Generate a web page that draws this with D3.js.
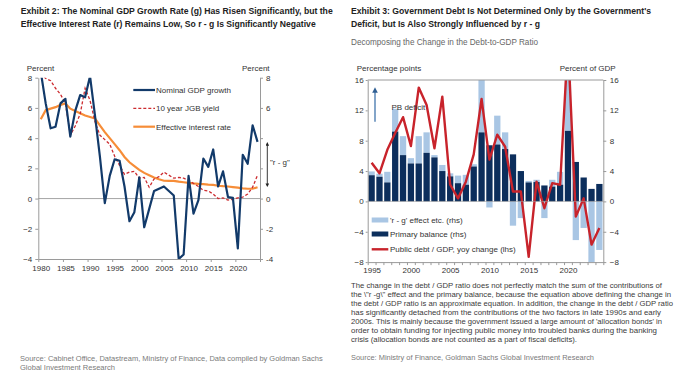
<!DOCTYPE html>
<html><head><meta charset="utf-8">
<script src="https://cdn.jsdelivr.net/npm/d3@7"></script>
<style>
body{margin:0;background:#fff;}
svg{display:block;font-family:"Liberation Sans",Arial,sans-serif;}
</style></head><body>
<svg id="c" width="700" height="378"></svg>
<script>
// ---------- Exhibit 2 data ----------
const years1 = [1980,1981,1982,1983,1984,1985,1986,1987,1988,1989,1990,1991,1992,1993,1994,1995,1996,1997,1998,1999,2000,2001,2002,2003,2004,2005,2006,2007,2008,2009,2010,2011,2012,2013,2014,2015,2016,2017,2018,2019,2020,2021,2022,2023,2024];
const gdpGrowth = [8.4,6.3,4.65,4.75,6.3,6.6,4.1,5.8,6.85,6.7,8.1,5.5,2.8,-0.3,1.5,2.6,2.5,0.8,-1.5,-0.9,1.4,-1.9,-0.7,0.5,0.65,0.8,0.5,0.2,-4.0,-3.7,1.5,-1.0,-0.1,2.65,2.1,3.25,0.8,1.8,0.1,0.05,-3.3,2.9,2.3,4.85,3.75];
const jgbYield = [8.3,7.95,7.8,7.3,6.9,6.3,4.2,4.8,5.6,7.3,6.5,5.1,4.2,3.9,3.6,2.8,2.2,1.6,1.75,1.8,1.35,1.4,0.75,1.3,1.45,1.75,1.55,1.35,1.4,1.35,1.2,1.0,0.8,0.55,0.5,0.3,0.0,0.05,-0.1,-0.05,0.05,0.1,0.3,0.75,1.55];
const effRate = [5.25,5.85,5.95,6.05,6.2,6.3,5.95,5.8,5.65,5.5,5.4,5.3,4.85,4.4,4.0,3.6,3.2,2.75,2.4,2.15,1.9,1.7,1.55,1.4,1.28,1.18,1.17,1.17,1.12,1.08,1.04,1.0,0.97,0.95,0.92,0.9,0.85,0.82,0.8,0.76,0.72,0.68,0.65,0.65,0.75];
const ticks1 = [-4,-2,0,2,4,6,8];
const xLabels1 = [1980,1985,1990,1995,2000,2005,2010,2015,2020];

// ---------- Exhibit 3 data ----------
const years2 = [1995,1996,1997,1998,1999,2000,2001,2002,2003,2004,2005,2006,2007,2008,2009,2010,2011,2012,2013,2014,2015,2016,2017,2018,2019,2020,2021,2022,2023,2024];
const primaryBalance = [3.45,3.25,2.5,9.2,6.1,5.0,5.0,6.4,5.8,4.0,3.3,2.4,2.2,4.6,9.1,7.4,7.5,6.9,6.2,4.0,2.5,2.55,2.1,1.95,2.2,9.3,5.2,3.15,1.65,2.3];
const rgEffect = [0.5,0.4,1.4,3.0,2.5,0.7,3.6,2.7,0.3,0.8,0.4,1.0,1.3,0.3,7.5,-0.8,3.8,2.2,-3.2,-2.2,0.2,0.3,-2.2,0.9,1.7,7.5,-5.1,-3.5,-8.5,-6.4];
const debtChange = [5.1,3.7,6.8,9.0,11.1,7.3,15.0,12.7,7.0,13.8,2.2,0.4,2.6,6.2,13.5,5.5,8.8,7.2,1.3,1.3,-7.3,2.6,-0.9,2.4,2.2,21,-2.0,0.4,-5.7,-3.5];
const ticks2 = [-8,-4,0,4,8,12,16];
const xLabels2 = [1995,2000,2005,2010,2015,2020];

const svg = d3.select("#c");
const AX = "#9a9a9a", TXT = "#333";

function textLine(x, y, str, opt) {
  const t = svg.append("text").attr("x", x).attr("y", y).text(str)
    .attr("font-size", opt.size).attr("fill", opt.fill || "#222")
    .attr("font-weight", opt.weight || "normal");
  if (opt.family) t.attr("font-family", opt.family);
  if (opt.len) t.attr("textLength", opt.len).attr("lengthAdjust", "spacingAndGlyphs");
  if (opt.anchor) t.attr("text-anchor", opt.anchor);
  return t;
}
const TF = "'Liberation Sans Narrow','Arial Narrow','Liberation Sans',sans-serif";

// ---------- Titles ----------
textLine(20.7, 13.5, "Exhibit 2: The Nominal GDP Growth Rate (g) Has Risen Significantly, but the", {size:9.6, weight:"bold", len:312, family:TF});
textLine(20.7, 26.5, "Effective Interest Rate (r) Remains Low, So r - g Is Significantly Negative", {size:9.6, weight:"bold", len:295, family:TF});
textLine(351, 13.5, "Exhibit 3: Government Debt Is Not Determined Only by the Government's", {size:9.6, weight:"bold", len:300, family:TF});
textLine(351, 26.5, "Deficit, but Is Also Strongly Influenced by r - g", {size:9.6, weight:"bold", len:189, family:TF});
textLine(351, 44.5, "Decomposing the Change in the Debt-to-GDP Ratio", {size:8.5, fill:"#666", len:187, family:TF});

// ---------- Left chart ----------
const x1 = d3.scaleLinear().domain([1979.5, 2024.5]).range([38.3, 260]);
const y1 = d3.scaleLinear().domain([-4, 8]).range([259, 77.7]);
const defs = svg.append("defs");
defs.append("clipPath").attr("id","clipL").append("rect")
  .attr("x", x1.range()[0]).attr("y", y1(8)).attr("width", x1.range()[1]-x1.range()[0]).attr("height", y1(-4)-y1(8));

function styleAxis(g){
  g.selectAll(".domain").attr("stroke", AX);
  g.selectAll(".tick line").attr("stroke", AX);
  g.selectAll("text").attr("fill", TXT).attr("font-size", 8).attr("font-family", "'Liberation Sans',Arial,sans-serif");
}
svg.append("line").attr("x1", x1.range()[0]).attr("x2", x1.range()[1]).attr("y1", y1(0)).attr("y2", y1(0)).attr("stroke", AX).attr("stroke-width", 0.9);

svg.append("g").attr("transform","translate(38.3,0)")
  .call(d3.axisLeft(y1).tickValues(ticks1).tickSize(3).tickSizeOuter(0).tickPadding(3)).call(styleAxis);
svg.append("g").attr("transform","translate(260,0)")
  .call(d3.axisRight(y1).tickValues(ticks1).tickSize(3).tickSizeOuter(0).tickPadding(3)
  .tickFormat(d => (d===2||d===4) ? "" : d)).call(styleAxis);
const bounds1 = xLabels1.map(d => d - 0.5).concat([years1[years1.length-1] + 0.5]);
svg.append("g").attr("transform","translate(0,259)")
  .call(d3.axisBottom(x1).tickValues(bounds1).tickFormat("").tickSize(3).tickSizeOuter(0)).call(styleAxis);
svg.append("g").attr("transform","translate(0,259)")
  .call(d3.axisBottom(x1).tickValues(xLabels1).tickFormat(d3.format("d")).tickSize(0).tickPadding(6.5))
  .call(g => g.select(".domain").remove()).call(styleAxis);

textLine(26.7, 70.5, "Percent", {size:8, fill:TXT});
textLine(242, 70.5, "Percent", {size:8, fill:TXT});

const lineL = arr => d3.line().x((d,i) => x1(years1[i])).y(d => y1(d))(arr);
const gL = svg.append("g").attr("clip-path","url(#clipL)");
gL.append("path").attr("d", lineL(effRate)).attr("fill","none").attr("stroke","#f68d38").attr("stroke-width",2.2);
gL.append("path").attr("d", lineL(jgbYield)).attr("fill","none").attr("stroke","#cc2b2f").attr("stroke-width",1.3).attr("stroke-dasharray","3,2");
gL.append("path").attr("d", lineL(gdpGrowth)).attr("fill","none").attr("stroke","#123a6a").attr("stroke-width",2.2).attr("stroke-linejoin","round");

// legend left
const legL = [
  {label:"Nominal GDP growth", color:"#123a6a", w:2.2, dash:null, y:90},
  {label:"10 year JGB yield", color:"#cc2b2f", w:1.3, dash:"3,2", y:108.3},
  {label:"Effective interest rate", color:"#f68d38", w:2.2, dash:null, y:126.7}
];
legL.forEach(l => {
  const ln = svg.append("line").attr("x1",133.3).attr("x2",155).attr("y1",l.y).attr("y2",l.y).attr("stroke",l.color).attr("stroke-width",l.w);
  if (l.dash) ln.attr("stroke-dasharray", l.dash);
  textLine(156, l.y+3, l.label, {size:8, fill:TXT});
});

// r - g annotation
defs.append("marker").attr("id","ah").attr("viewBox","0 0 10 10").attr("refX",5).attr("refY",5)
  .attr("markerWidth",4).attr("markerHeight",4).attr("orient","auto-start-reverse")
  .append("path").attr("d","M0,0L10,5L0,10z").attr("fill","#222");
svg.append("line").attr("x1",267.3).attr("x2",267.3).attr("y1",y1(gdpGrowth[gdpGrowth.length-1])+2).attr("y2",y1(effRate[effRate.length-1])-2)
  .attr("stroke","#222").attr("stroke-width",0.9).attr("marker-start","url(#ah)").attr("marker-end","url(#ah)");
textLine(270, 165, "\"r - g\"", {size:8, fill:TXT});

// ---------- Right chart ----------
const x2 = d3.scaleLinear().domain([1994.5, 2024.5]).range([367.7, 603.3]);
const y2 = d3.scaleLinear().domain([-8, 16]).range([262.1, 80]);
defs.append("clipPath").attr("id","clipR").append("rect")
  .attr("x", x2.range()[0]).attr("y", y2(16)).attr("width", x2.range()[1]-x2.range()[0]).attr("height", y2(-8)-y2(16));
const step = x2(1) - x2(0);
const bw = step * 0.8;
const gR = svg.append("g").attr("clip-path","url(#clipR)");
years2.forEach((yr, i) => {
  const pb = primaryBalance[i], rg = rgEffect[i];
  if (rg >= 0) {
    gR.append("rect").attr("x", x2(yr)-bw/2).attr("width", bw).attr("y", y2(pb+rg)).attr("height", y2(pb)-y2(pb+rg)).attr("fill","#a9c6e4");
  } else {
    gR.append("rect").attr("x", x2(yr)-bw/2).attr("width", bw).attr("y", y2(0)).attr("height", y2(rg)-y2(0)).attr("fill","#a9c6e4");
  }
  gR.append("rect").attr("x", x2(yr)-bw/2).attr("width", bw).attr("y", y2(pb)).attr("height", y2(0)-y2(pb)).attr("fill","#0c2e5c");
});
svg.append("line").attr("x1", x2.range()[0]).attr("x2", x2.range()[1]).attr("y1", y2(0)).attr("y2", y2(0)).attr("stroke", AX).attr("stroke-width", 0.6);
gR.append("path").attr("d", d3.line().x((d,i)=>x2(years2[i])).y(d=>y2(d))(debtChange))
  .attr("fill","none").attr("stroke","#c8232b").attr("stroke-width",2.4).attr("stroke-linejoin","round");

// frame
svg.append("line").attr("x1", x2.range()[0]).attr("x2", x2.range()[1]).attr("y1", y2(16)).attr("y2", y2(16)).attr("stroke", AX);
svg.append("g").attr("transform",`translate(${x2.range()[0]},0)`)
  .call(d3.axisLeft(y2).tickValues(ticks2).tickSize(2).tickSizeOuter(0).tickPadding(2)).call(styleAxis);
svg.append("g").attr("transform",`translate(${x2.range()[1]},0)`)
  .call(d3.axisRight(y2).tickValues(ticks2).tickSize(3).tickSizeOuter(0).tickPadding(3.5)).call(styleAxis);
const bounds2 = years2.map(d => d - 0.5).concat([years2[years2.length-1] + 0.5]);
svg.append("g").attr("transform",`translate(0,${y2(-8)})`)
  .call(d3.axisBottom(x2).tickValues(bounds2).tickFormat("").tickSize(3).tickSizeOuter(0)).call(styleAxis);
svg.append("g").attr("transform",`translate(0,${y2(-8)})`)
  .call(d3.axisBottom(x2).tickValues(xLabels2).tickFormat(d3.format("d")).tickSize(0).tickPadding(5))
  .call(g => g.select(".domain").remove()).call(styleAxis);

textLine(356.7, 70.5, "Percentage  points", {size:8, fill:TXT});
textLine(615.7, 70.5, "Percent of GDP", {size:8, fill:TXT, anchor:"end"});

// PB deficit annotation
defs.append("marker").attr("id","ahb").attr("viewBox","0 0 10 10").attr("refX",5).attr("refY",5)
  .attr("markerWidth",4).attr("markerHeight",4).attr("orient","auto")
  .append("path").attr("d","M0,0L10,5L0,10z").attr("fill","#2f5f93");
svg.append("line").attr("x1",375).attr("x2",375).attr("y1",121.7).attr("y2",90).attr("stroke","#4f7fb2").attr("stroke-width",1.4).attr("marker-end","url(#ahb)");
textLine(391.5, 110, "PB deficit", {size:8, fill:TXT});

// legend right
const lg = svg.append("g");
lg.append("rect").attr("x",371.7).attr("y",217.5).attr("width",16.6).attr("height",5).attr("fill","#a9c6e4");
textLine(390, 223, "'r - g' effect etc. (rhs)", {size:8, fill:TXT});
lg.append("rect").attr("x",371.7).attr("y",231.5).attr("width",16.6).attr("height",5).attr("fill","#0c2e5c");
textLine(390, 237, "Primary balance (rhs)", {size:8, fill:TXT});
lg.append("line").attr("x1",371.7).attr("x2",388.3).attr("y1",249.3).attr("y2",249.3).attr("stroke","#c8232b").attr("stroke-width",2.4);
textLine(390, 252.3, "Public debt / GDP, yoy change (lhs)", {size:8, fill:TXT});

// ---------- Notes & sources ----------
const notes = [
  ["The change in the debt / GDP ratio does not perfectly match the sum of the contributions of", 311],
  ["the \\\"r -g\\\" effect and the primary balance, because the equation above defining the change in", 320],
  ["the debt / GDP ratio is an approximate equation. In addition, the change in the debt / GDP ratio", 322],
  ["has significantly detached from the contributions of the two factors in late 1990s and early", 310],
  ["2000s. This is mainly because the government issued a large amount of 'allocation bonds' in", 311],
  ["order to obtain funding for injecting public money into troubled banks during the banking", 306],
  ["crisis (allocation bonds are not counted as a part of fiscal deficits).", 226]
];
notes.forEach((n, i) => textLine(351, 288 + i*9, n[0], {size:7.8, fill:"#3a3a3a", len:n[1], family:TF}));
textLine(351, 360, "Source: Ministry of Finance, Goldman Sachs Global Investment Research", {size:7.8, fill:"#7a7a7a", len:243, family:TF});
textLine(20, 361, "Source: Cabinet Office, Datastream, Ministry of Finance, Data compiled by Goldman Sachs", {size:7.8, fill:"#7a7a7a", len:302.7, family:TF});
textLine(20, 370, "Global Investment Research", {size:7.8, fill:"#7a7a7a", len:95, family:TF});
</script>
</body></html>
